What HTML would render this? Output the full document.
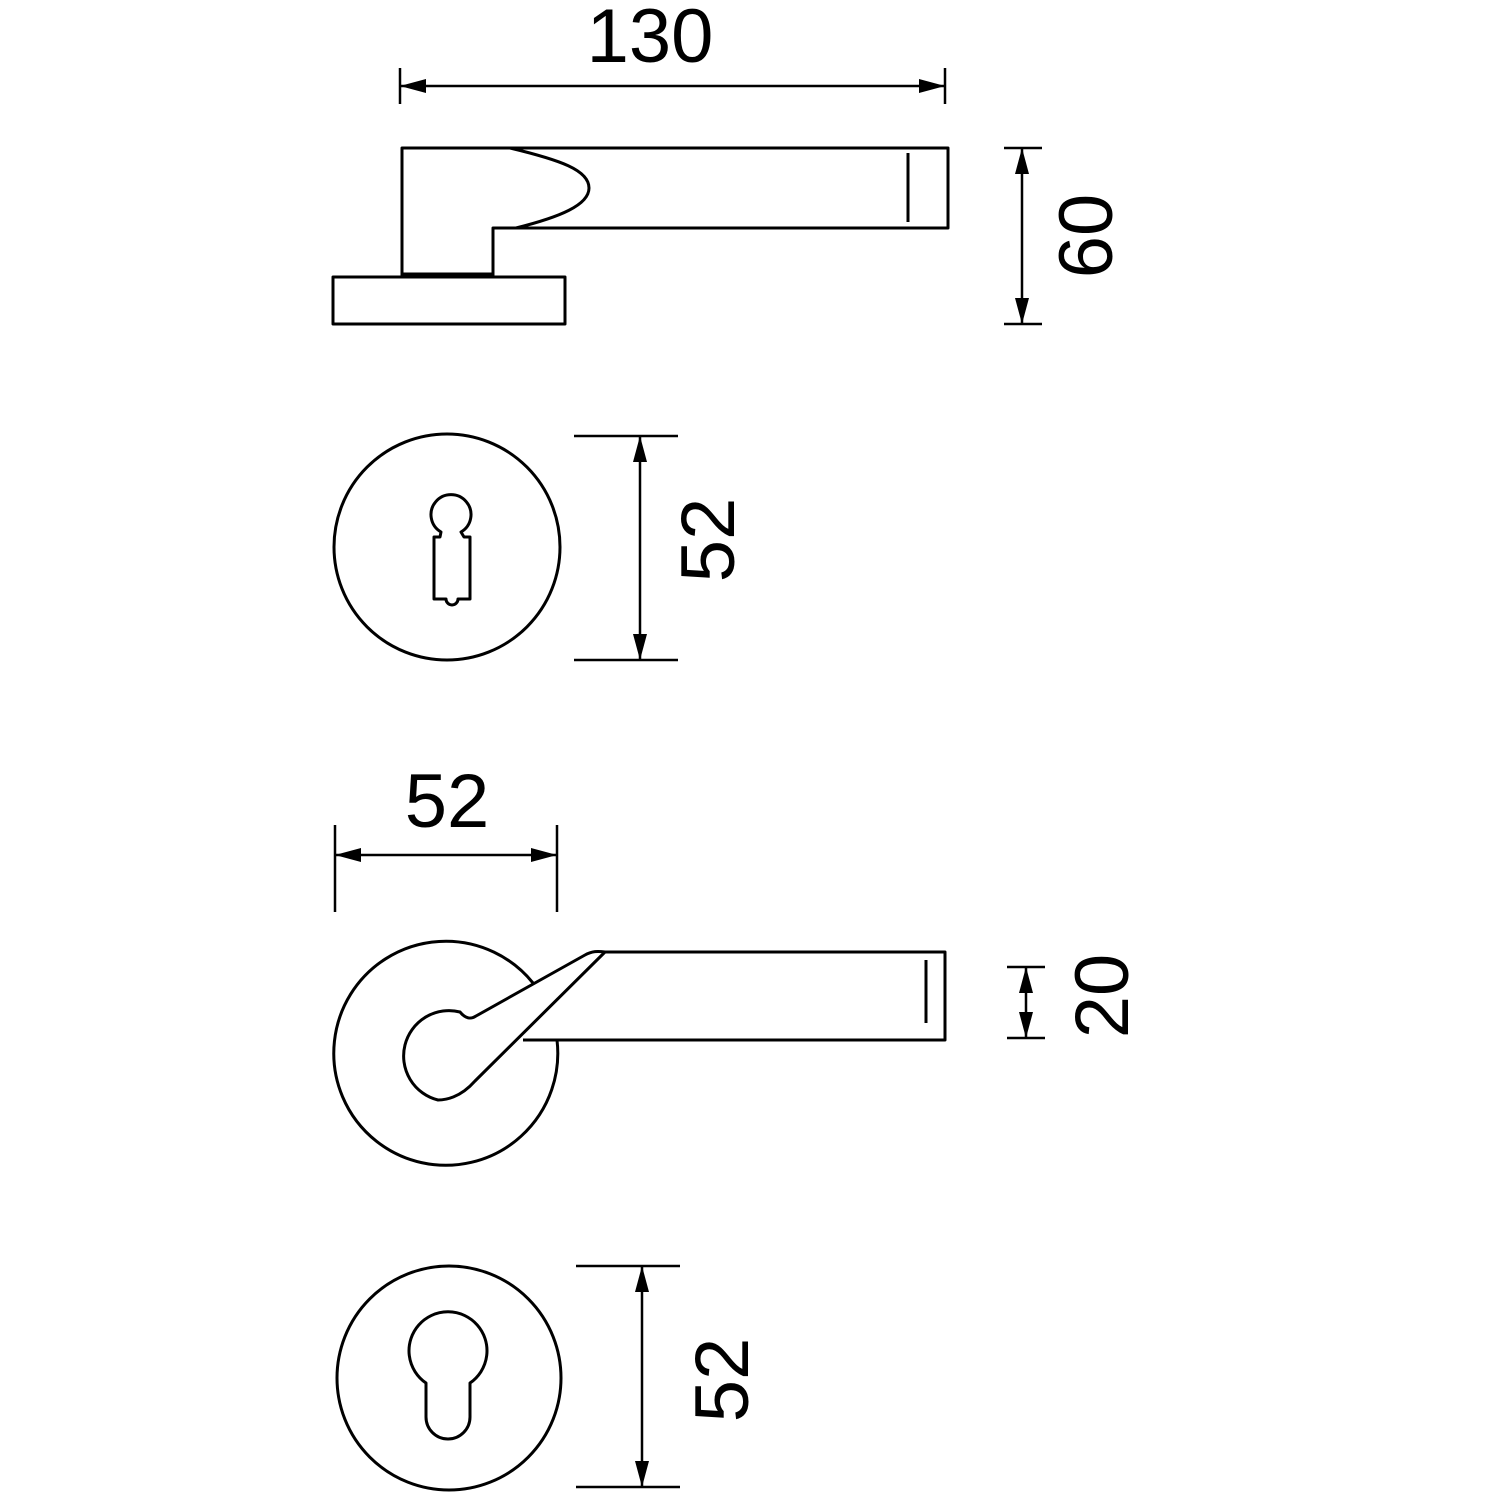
<!DOCTYPE html>
<html><head><meta charset="utf-8"><style>html,body{margin:0;padding:0;background:#fff}</style></head>
<body>
<svg width="1500" height="1500" viewBox="0 0 1500 1500" xmlns="http://www.w3.org/2000/svg">
<defs>
<marker id="a" markerWidth="26" markerHeight="14" refX="26" refY="7" orient="auto" markerUnits="userSpaceOnUse"><path d="M0,0 L26,7 L0,14 Z" fill="#000"/></marker>
<marker id="b" markerWidth="26" markerHeight="14" refX="0" refY="7" orient="auto" markerUnits="userSpaceOnUse"><path d="M26,0 L0,7 L26,14 Z" fill="#000"/></marker>
</defs>
<g fill="none" stroke="#000" stroke-width="3" stroke-linejoin="round">
<!-- top side view -->
<path d="M402,276 L402,148 L948,148 L948,228 L493,228 L493,276"/>
<rect x="333" y="277" width="232" height="47"/>
<line x1="402" y1="275" x2="493" y2="275" stroke-width="5"/>
<path d="M510,148 C560,160 589,170 589,188 C589,205 560,217 516,228"/>
<line x1="908" y1="153" x2="908" y2="222"/>
<!-- keyhole rosette -->
<circle cx="447" cy="547" r="113"/>
<path d="M441,532 A20,20 0 1 1 461,532 L464,537 L470,537 L470,599 L458,599 A6,6 0 0 1 446,599 L434,599 L434,537 L440,537 Z"/>
<!-- lever front -->
<path d="M523,1040 L557,1040 A112,112 0 1 1 533,983"/>
<path d="M605,952 L945,952 L945,1040 L523,1040"/>
<line x1="926" y1="960" x2="926" y2="1023"/>
<path d="M605,952 L475,1081 C460,1098 445,1100 438,1100 A42,42 0 1 1 460,1012 C465,1018 470,1020 476,1016 L585,955 C592,951 598,951 605,952 Z"/>
<!-- profile rosette -->
<circle cx="449" cy="1378" r="112"/>
<path d="M426,1383 A39,39 0 1 1 470,1383 L470,1417 A22,22 0 0 1 426,1417 Z"/>
</g>
<g stroke="#000" stroke-width="2.5">
<!-- 130 -->
<line x1="400" y1="68" x2="400" y2="104"/><line x1="945" y1="68" x2="945" y2="104"/>
<line x1="400" y1="86" x2="945" y2="86" marker-start="url(#b)" marker-end="url(#a)"/>
<!-- 60 -->
<line x1="1004" y1="148" x2="1042" y2="148"/><line x1="1004" y1="324" x2="1042" y2="324"/>
<line x1="1022" y1="148" x2="1022" y2="324" marker-start="url(#b)" marker-end="url(#a)"/>
<!-- 52 -->
<line x1="574" y1="436" x2="678" y2="436"/><line x1="574" y1="660" x2="678" y2="660"/>
<line x1="640" y1="436" x2="640" y2="660" marker-start="url(#b)" marker-end="url(#a)"/>
<!-- 52 horizontal -->
<line x1="335" y1="825" x2="335" y2="912"/><line x1="557" y1="825" x2="557" y2="912"/>
<line x1="335" y1="855" x2="557" y2="855" marker-start="url(#b)" marker-end="url(#a)"/>
<!-- 20 -->
<line x1="1007" y1="967" x2="1045" y2="967"/><line x1="1007" y1="1038" x2="1045" y2="1038"/>
<line x1="1026" y1="967" x2="1026" y2="1038" marker-start="url(#b)" marker-end="url(#a)"/>
<!-- 52 bottom -->
<line x1="576" y1="1266" x2="680" y2="1266"/><line x1="576" y1="1487" x2="680" y2="1487"/>
<line x1="642" y1="1266" x2="642" y2="1487" marker-start="url(#b)" marker-end="url(#a)"/>
</g>
<g font-family="Liberation Sans, sans-serif" font-size="76" fill="#000" text-anchor="middle">
<text x="650" y="62">130</text>
<text x="447" y="827">52</text>
<text transform="translate(1112,236) rotate(-90)">60</text>
<text transform="translate(734,540) rotate(-90)">52</text>
<text transform="translate(1128,996) rotate(-90)">20</text>
<text transform="translate(748,1380) rotate(-90)">52</text>
</g>
</svg>
</body></html>
